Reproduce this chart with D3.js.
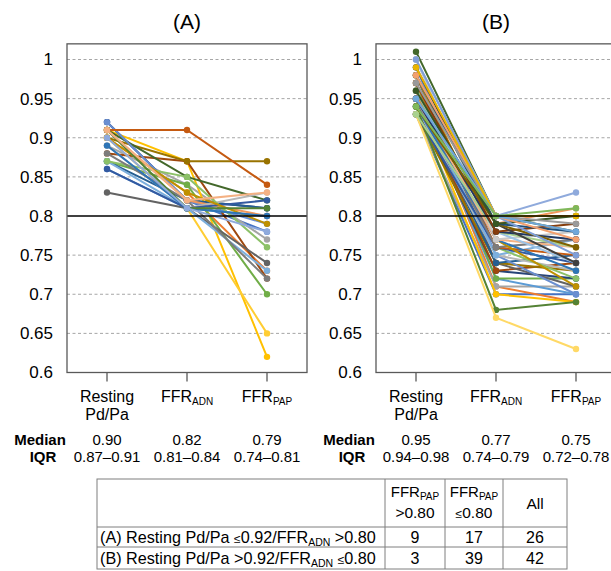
<!DOCTYPE html>
<html>
<head>
<meta charset="utf-8">
<script src="https://cdn.jsdelivr.net/npm/d3@7"></script>
<style>
  body { margin: 0; background: #fff; }
  text { font-family: Arial, "Liberation Sans", sans-serif; fill: #000; }
</style>
</head>
<body>
<div id="chart"></div>
<script>
// categories on the x axis
const categories = ["rest", "adn", "pap"];
const yTicks = [0.6, 0.65, 0.7, 0.75, 0.8, 0.85, 0.9, 0.95, 1];

// (A) Resting Pd/Pa <=0.92 / FFR_ADN >0.80  (26 lesions)
const aRest = [0.92,0.90,0.89,0.91,0.86,0.87,0.92,0.88,0.83,0.90,0.87,0.91,0.92,0.91,0.89,0.90,0.87,0.87,0.86,0.91,0.88,0.90,0.89,0.91,0.90,0.91];
const aAdn  = [0.82,0.83,0.84,0.87,0.81,0.84,0.82,0.87,0.81,0.87,0.82,0.85,0.82,0.82,0.81,0.81,0.81,0.85,0.81,0.91,0.82,0.83,0.81,0.81,0.81,0.82];
const aPap  = [0.78,0.73,0.77,0.62,0.80,0.70,0.81,0.72,0.74,0.87,0.81,0.82,0.79,0.80,0.83,0.65,0.73,0.76,0.82,0.84,0.72,0.79,0.80,0.81,0.78,0.83];

// (B) Resting Pd/Pa >0.92 / FFR_ADN <=0.80  (42 lesions)
const bRest = [0.93,0.96,0.93,0.95,0.95,0.97,0.94,0.95,0.98,0.93,0.95,1.01,0.99,0.95,0.94,0.98,0.95,0.96,0.93,0.97,0.95,0.98,0.94,0.94,1.00,0.95,1.00,0.93,0.96,0.93,0.95,0.97,0.99,0.94,0.98,0.96,1.00,0.98,0.97,0.99,0.95,0.94];
const bAdn  = [0.70,0.71,0.71,0.70,0.72,0.72,0.73,0.73,0.74,0.74,0.74,0.80,0.75,0.79,0.75,0.80,0.75,0.76,0.76,0.76,0.76,0.77,0.77,0.68,0.80,0.77,0.77,0.67,0.78,0.78,0.78,0.78,0.79,0.79,0.79,0.79,0.80,0.80,0.80,0.80,0.80,0.80];
const bPap  = [0.70,0.69,0.71,0.69,0.70,0.72,0.72,0.74,0.71,0.73,0.75,0.78,0.70,0.81,0.73,0.80,0.77,0.72,0.74,0.75,0.77,0.71,0.73,0.69,0.83,0.76,0.78,0.63,0.74,0.76,0.77,0.79,0.74,0.76,0.78,0.80,0.75,0.77,0.79,0.80,0.78,0.81];

// summary rows under each panel
const aMedian = ["0.90", "0.82", "0.79"];
const aIqr    = ["0.87–0.91", "0.81–0.84", "0.74–0.81"];
const bMedian = ["0.95", "0.77", "0.75"];
const bIqr    = ["0.94–0.98", "0.74–0.79", "0.72–0.78"];

// table
const tableRows = ["A", "B"];
const tableGt = [9, 3];
const tableLe = [17, 39];
const tableAll = [26, 42];

// office-like series colours
const palette = ["#4472C4","#ED7D31","#A5A5A5","#FFC000","#5B9BD5","#70AD47","#264478","#9E480E","#636363","#997300",
  "#255E91","#43682B","#698ED0","#F1975A","#B7B7B7","#FFCD33","#7CAFDD","#8CC168","#335AA1","#C55A11",
  "#7C7C7C","#BF9000","#2E75B6","#548235","#8FAADC","#F4B183","#C9C9C9","#FFD966","#9DC3E6","#A9D18E",
  "#203864","#843C0C","#404040","#7F6000","#1F4E79","#385723","#7F9FD8","#F2A06E","#9A9A9A","#E8B400","#6FA7DA","#7FB85A"];

const width = 611, height = 571;
const svg = d3.select("#chart").append("svg")
    .attr("width", width)
    .attr("height", height);

const y = d3.scaleLinear().domain([0.6, 1]).range([372.5, 59.5]);
const boxTop = y(1.02), boxBottom = y(0.6);
const boxW = 240;

function addSub(sel, main, sub, size) {
    sel.append("tspan").text(main);
    sel.append("tspan").attr("font-size", size).attr("dy", 3).text(sub);
}

function drawPanel(x0, title, rest, adn, pap, median, iqr) {
    const g = svg.append("g");
    const x = d3.scalePoint().domain(categories).range([x0, x0 + boxW]).padding(0.5);

    // dashed gridlines
    g.selectAll(".grid")
        .data(yTicks.filter(t => t > 0.6 && t !== 0.8))
        .enter().append("line")
        .attr("x1", x0).attr("x2", x0 + boxW)
        .attr("y1", d => y(d)).attr("y2", d => y(d))
        .attr("stroke", "#a6a6a6")
        .attr("stroke-width", 1)
        .attr("stroke-dasharray", "3,2.5");

    // y tick labels
    const yAxis = d3.axisLeft(y).tickValues(yTicks).tickSize(0).tickPadding(14)
        .tickFormat(d => String(+d.toFixed(2)));
    const ya = g.append("g").attr("transform", `translate(${x0},0)`).call(yAxis);
    ya.select(".domain").remove();
    ya.selectAll("text").attr("font-size", 17).attr("font-family", "Arial, 'Liberation Sans', sans-serif");

    // series
    const series = rest.map((r, i) => ({ i: i, vals: [r, adn[i], pap[i]] }));
    const line = d3.line().x((d, j) => x(categories[j])).y(d => y(d));
    const s = g.selectAll(".series").data(series).enter().append("g");
    s.append("path")
        .attr("d", d => line(d.vals))
        .attr("fill", "none")
        .attr("stroke", d => palette[d.i % palette.length])
        .attr("stroke-width", 2);
    s.selectAll("circle")
        .data(d => d.vals.map((v, j) => ({ v: v, j: j, i: d.i })))
        .enter().append("circle")
        .attr("cx", d => x(categories[d.j]))
        .attr("cy", d => y(d.v))
        .attr("r", 3.2)
        .attr("fill", d => palette[d.i % palette.length]);

    // cut-off line
    g.append("line")
        .attr("x1", x0).attr("x2", x0 + boxW)
        .attr("y1", y(0.8)).attr("y2", y(0.8))
        .attr("stroke", "#000").attr("stroke-width", 1.5);

    // frame
    g.append("rect")
        .attr("x", x0).attr("y", boxTop)
        .attr("width", boxW).attr("height", boxBottom - boxTop)
        .attr("fill", "none").attr("stroke", "#595959").attr("stroke-width", 1.3);

    // bottom ticks
    g.selectAll(".xt").data(categories).enter().append("line")
        .attr("x1", d => x(d)).attr("x2", d => x(d))
        .attr("y1", boxBottom).attr("y2", boxBottom + 9)
        .attr("stroke", "#595959").attr("stroke-width", 1.3);

    // category labels
    const lab = g.append("g").attr("font-size", 16).attr("text-anchor", "middle");
    const t0 = lab.append("text").attr("x", x("rest")).attr("y", 402);
    t0.append("tspan").attr("x", x("rest")).text("Resting");
    t0.append("tspan").attr("x", x("rest")).attr("dy", 18).text("Pd/Pa");
    addSub(lab.append("text").attr("x", x("adn")).attr("y", 402), "FFR", "ADN", 10);
    addSub(lab.append("text").attr("x", x("pap")).attr("y", 402), "FFR", "PAP", 10);

    // title
    g.append("text").attr("x", x0 + boxW / 2).attr("y", 29)
        .attr("text-anchor", "middle").attr("font-size", 21).text(title);

    // median / IQR rows
    const sx = x0 - 27;
    g.append("text").attr("x", sx).attr("y", 445).attr("text-anchor", "middle")
        .attr("font-size", 15).attr("font-weight", "bold").text("Median");
    g.append("text").attr("x", sx + 3).attr("y", 462).attr("text-anchor", "middle")
        .attr("font-size", 15).attr("font-weight", "bold").text("IQR");
    g.selectAll(".med").data(median).enter().append("text")
        .attr("x", (d, j) => x(categories[j])).attr("y", 445)
        .attr("text-anchor", "middle").attr("font-size", 15).text(d => d);
    g.selectAll(".iqr").data(iqr).enter().append("text")
        .attr("x", (d, j) => x(categories[j])).attr("y", 462)
        .attr("text-anchor", "middle").attr("font-size", 15).text(d => d);
}

drawPanel(67, "(A)", aRest, aAdn, aPap, aMedian, aIqr);
drawPanel(376, "(B)", bRest, bAdn, bPap, bMedian, bIqr);

// ---- table ----
const cols = [97, 385, 445, 503, 567];
const rowsY = [479, 527, 547, 569];
const tb = svg.append("g");
tb.append("rect").attr("x", cols[0]).attr("y", rowsY[0])
    .attr("width", cols[4] - cols[0]).attr("height", rowsY[3] - rowsY[0])
    .attr("fill", "none").attr("stroke", "#7f7f7f");
cols.slice(1, 4).forEach(cx => tb.append("line")
    .attr("x1", cx).attr("x2", cx).attr("y1", rowsY[0]).attr("y2", rowsY[3])
    .attr("stroke", "#7f7f7f"));
rowsY.slice(1, 3).forEach(ry => tb.append("line")
    .attr("x1", cols[0]).attr("x2", cols[4]).attr("y1", ry).attr("y2", ry)
    .attr("stroke", "#7f7f7f"));

const tf = 16.2;
const c1 = (cols[1] + cols[2]) / 2, c2 = (cols[2] + cols[3]) / 2, c3 = (cols[3] + cols[4]) / 2;
function headCell(cx) {
    const t = tb.append("text").attr("x", cx).attr("y", 497).attr("text-anchor", "middle").attr("font-size", 15);
    addSub(t, "FFR", "PAP", 10);
    return tb.append("text").attr("x", cx).attr("y", 518).attr("text-anchor", "middle").attr("font-size", 15.5);
}
headCell(c1).text(">0.80");
const h2 = headCell(c2);
h2.append("tspan").attr("font-size", 12).text("≤");
h2.append("tspan").text("0.80");
tb.append("text").attr("x", c3).attr("y", 509).attr("text-anchor", "middle").attr("font-size", 15.5).text("All");

tableRows.forEach((r, i) => {
    const yy = i === 0 ? 543 : 564;
    const t = tb.append("text").attr("x", 100).attr("y", yy).attr("font-size", tf);
    t.append("tspan").text(`(${r}) Resting Pd/Pa `);
    if (r === "A") {
        t.append("tspan").attr("font-size", 12).text("≤");
        t.append("tspan").text("0.92/FFR");
        t.append("tspan").attr("font-size", 10.5).attr("dy", 3).text("ADN");
        t.append("tspan").attr("dy", -3).text(" >0.80");
    } else {
        t.append("tspan").text(">0.92/FFR");
        t.append("tspan").attr("font-size", 10.5).attr("dy", 3).text("ADN");
        t.append("tspan").attr("dy", -3).text(" ");
        t.append("tspan").attr("font-size", 12).text("≤");
        t.append("tspan").text("0.80");
    }
    [[c1, tableGt[i]], [c2, tableLe[i]], [c3, tableAll[i]]].forEach(([cx, v]) =>
        tb.append("text").attr("x", cx).attr("y", yy).attr("text-anchor", "middle").attr("font-size", 16).text(v));
});
</script>
</body>
</html>
